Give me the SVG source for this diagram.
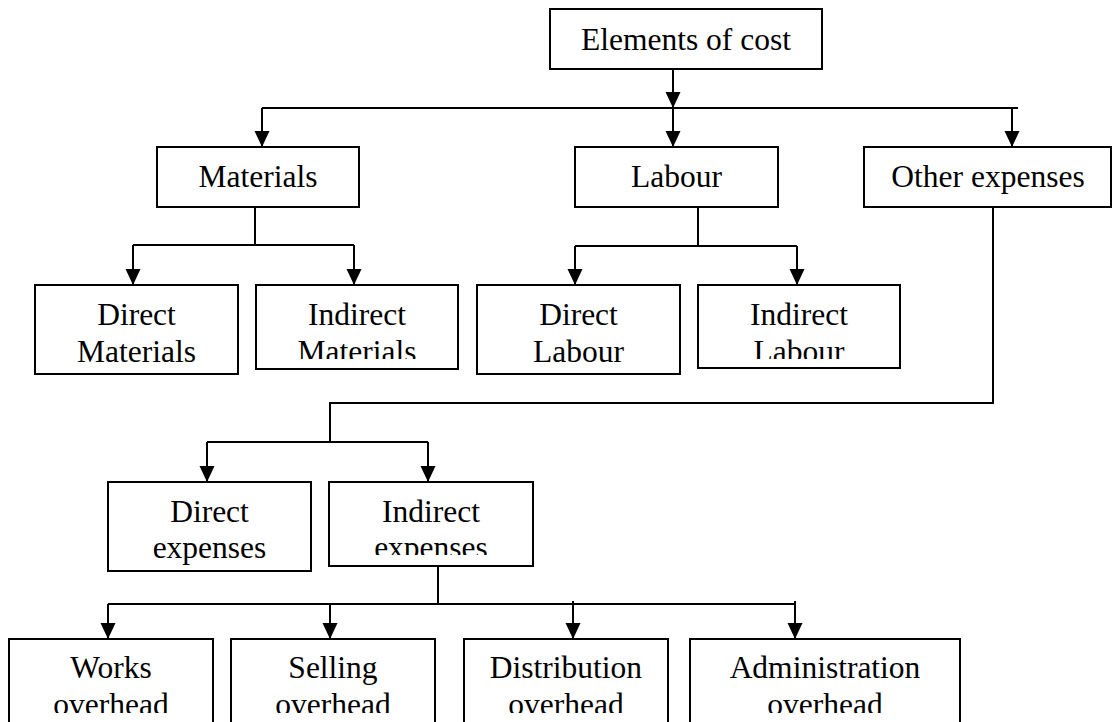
<svg xmlns="http://www.w3.org/2000/svg" width="1113" height="722" viewBox="0 0 1113 722">
<style>
.box{fill:#fff;stroke:#000;stroke-width:2}
.t{font-family:"Liberation Serif","Times New Roman",serif;font-size:31.5px;fill:#000;text-anchor:middle}
.c{fill:none;stroke:#000;stroke-width:2}
</style>
<defs>
<marker id="ah" markerUnits="userSpaceOnUse" markerWidth="16" markerHeight="16" refX="16" refY="7.5" orient="auto"><path d="M0,0 L16,7.5 L0,15 z" fill="#000"/></marker>
<clipPath id="cIM"><rect x="256" y="285" width="202" height="74"/></clipPath>
<clipPath id="cIL"><rect x="698" y="285" width="202" height="74"/></clipPath>
<clipPath id="cIE"><rect x="329" y="482" width="204" height="73"/></clipPath>
<clipPath id="cB"><rect x="0" y="639" width="1113" height="74"/></clipPath>
</defs>
<rect width="1113" height="722" fill="#fff"/>
<g id="connectors">
<path class="c" d="M673,69 V108" marker-end="url(#ah)"/>
<path class="c" d="M262,108 H1018"/>
<path class="c" d="M262,108 V147" marker-end="url(#ah)"/>
<path class="c" d="M673,108 V147" marker-end="url(#ah)"/>
<path class="c" d="M1012,108 V147" marker-end="url(#ah)"/>
<path class="c" d="M255,207 V245 M133,245 H354"/>
<path class="c" d="M133,245 V285" marker-end="url(#ah)"/>
<path class="c" d="M354,245 V285" marker-end="url(#ah)"/>
<path class="c" d="M698,207 V246 M575,246 H797"/>
<path class="c" d="M575,246 V285" marker-end="url(#ah)"/>
<path class="c" d="M797,246 V285" marker-end="url(#ah)"/>
<path class="c" d="M993,207 V403 H330 V442 M207,442 H428"/>
<path class="c" d="M207,442 V482" marker-end="url(#ah)"/>
<path class="c" d="M428,442 V482" marker-end="url(#ah)"/>
<path class="c" d="M438,566 V604 M108,604 H795"/>
<path class="c" d="M108,604 V639" marker-end="url(#ah)"/>
<path class="c" d="M330,604 V639" marker-end="url(#ah)"/>
<path class="c" d="M573,601 V639" marker-end="url(#ah)"/>
<path class="c" d="M795,601 V639" marker-end="url(#ah)"/>
</g>
<g id="elements"><rect class="box" x="550" y="9" width="272" height="60"/><text class="t" x="686" y="50">Elements of cost</text></g>
<g id="materials"><rect class="box" x="157" y="147" width="202" height="60"/><text class="t" x="258" y="187">Materials</text></g>
<g id="labour"><rect class="box" x="575" y="147" width="203" height="60"/><text class="t" x="676.5" y="187">Labour</text></g>
<g id="other"><rect class="box" x="864" y="147" width="247" height="60"/><text class="t" x="988" y="187">Other expenses</text></g>
<g id="direct-materials"><rect class="box" x="35" y="285" width="203" height="89"/><text class="t" x="136.5" y="325">Direct</text><text class="t" x="136.5" y="362">Materials</text></g>
<g id="indirect-materials"><rect class="box" x="256" y="285" width="202" height="84"/><g clip-path="url(#cIM)"><text class="t" x="357" y="325">Indirect</text><text class="t" x="357" y="362">Materials</text></g></g>
<g id="direct-labour"><rect class="box" x="477" y="285" width="203" height="89"/><text class="t" x="578.5" y="325">Direct</text><text class="t" x="578.5" y="362">Labour</text></g>
<g id="indirect-labour"><rect class="box" x="698" y="285" width="202" height="83"/><g clip-path="url(#cIL)"><text class="t" x="799" y="325">Indirect</text><text class="t" x="799" y="362">Labour</text></g></g>
<g id="direct-expenses"><rect class="box" x="108" y="482" width="203" height="89"/><text class="t" x="209.5" y="522">Direct</text><text class="t" x="209.5" y="558">expenses</text></g>
<g id="indirect-expenses"><rect class="box" x="329" y="482" width="204" height="84"/><g clip-path="url(#cIE)"><text class="t" x="431" y="522">Indirect</text><text class="t" x="431" y="558">expenses</text></g></g>
<g id="works"><rect class="box" x="9" y="639" width="204" height="100"/><g clip-path="url(#cB)"><text class="t" x="111" y="678">Works</text><text class="t" x="111" y="715">overhead</text></g></g>
<g id="selling"><rect class="box" x="231" y="639" width="204" height="100"/><g clip-path="url(#cB)"><text class="t" x="333" y="678">Selling</text><text class="t" x="333" y="715">overhead</text></g></g>
<g id="distribution"><rect class="box" x="464" y="639" width="204" height="100"/><g clip-path="url(#cB)"><text class="t" x="566" y="678">Distribution</text><text class="t" x="566" y="715">overhead</text></g></g>
<g id="administration"><rect class="box" x="690" y="639" width="270" height="100"/><g clip-path="url(#cB)"><text class="t" x="825" y="678">Administration</text><text class="t" x="825" y="715">overhead</text></g></g>
</svg>
